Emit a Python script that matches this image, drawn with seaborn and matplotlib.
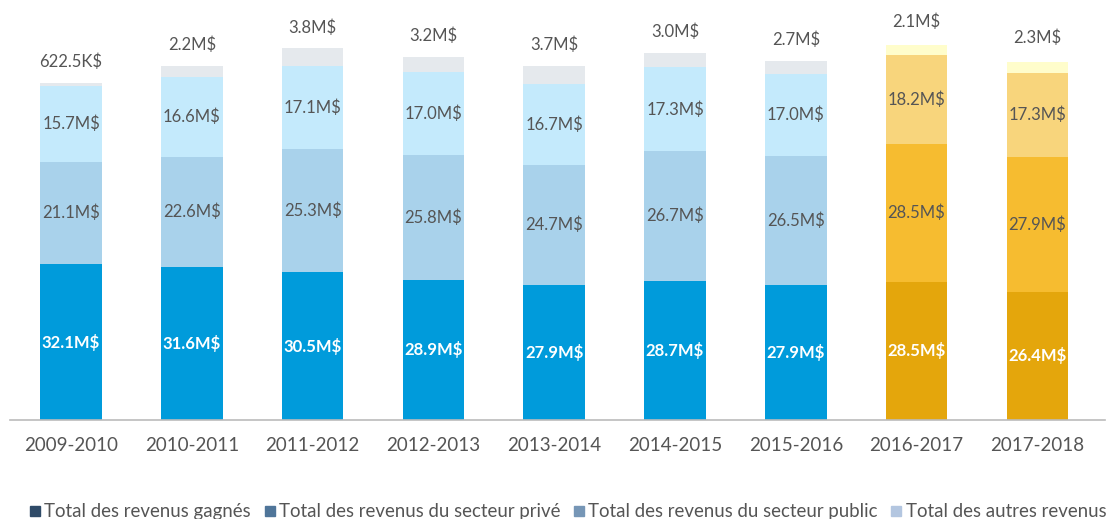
import numpy as np
import pandas as pd
import matplotlib
matplotlib.use("Agg")
import matplotlib.pyplot as plt
from matplotlib.lines import Line2D
import seaborn as sns

sns.set_theme(style="white")
plt.rcParams['font.family'] = ['Lato', 'DejaVu Sans']

years = ["2009-2010", "2010-2011", "2011-2012", "2012-2013", "2013-2014",
         "2014-2015", "2015-2016", "2016-2017", "2017-2018"]
gagnes = [32.1, 31.6, 30.5, 28.9, 27.9, 28.7, 27.9, 28.5, 26.4]
prive = [21.1, 22.6, 25.3, 25.8, 24.7, 26.7, 26.5, 28.5, 27.9]
public = [15.7, 16.6, 17.1, 17.0, 16.7, 17.3, 17.0, 18.2, 17.3]
autres = [0.6225, 2.2, 3.8, 3.2, 3.7, 3.0, 2.7, 2.1, 2.3]
autres_labels = ["622.5K$", "2.2M$", "3.8M$", "3.2M$", "3.7M$",
                 "3.0M$", "2.7M$", "2.1M$", "2.3M$"]

legend_labels = ["Total des revenus gagnés", "Total des revenus du secteur privé",
                 "Total des revenus du secteur public", "Total des autres revenus"]
legend_colors = ["#2f4b68", "#4f7599", "#7696b6", "#b3c6e0"]

# colours per layer: blue for the first 7 years, gold for the last 2
blue = ["#009bdb", "#a9d2eb", "#c4eafc", "#e5e9ed"]
gold = ["#e4a60c", "#f6bc30", "#f8d57c", "#fffdcb"]
n_blue = 7

df = pd.DataFrame({"year": years, "gagnes": gagnes, "prive": prive,
                   "public": public, "autres": autres})
layers = ["gagnes", "prive", "public", "autres"]
cum = df[layers].cumsum(axis=1)

fig = plt.figure(figsize=(11.18, 5.19), dpi=100)
ax = fig.add_axes([10 / 1118, 99 / 519, 1095 / 1118, 420 / 519])

# draw from the top layer down so lower layers cover the upper totals
for i in range(3, -1, -1):
    pal = {y: (blue[i] if k < n_blue else gold[i]) for k, y in enumerate(years)}
    d = pd.DataFrame({"year": years, "val": cum[layers[i]]})
    sns.barplot(data=d, x="year", y="val", hue="year", palette=pal, legend=False,
                width=0.51, saturation=1, linewidth=0, ax=ax)

for k in range(len(years)):
    base = 0
    for i, col in enumerate(layers[:3]):
        v = df[col][k]
        color = "white" if i == 0 else "#555555"
        ax.text(k, base + v / 2, f"{v:.1f}M$", ha="center", va="center",
                fontsize=12, color=color, fontweight="bold" if i == 0 else "normal")
        base += v
    total = cum["autres"][k]
    off = 9 if k < n_blue else 11
    ax.annotate(autres_labels[k], (k, total), xytext=(0, off), textcoords="offset points",
                ha="center", va="bottom", fontsize=12, color="#555555")

ax.set_xlim(-0.505, 8.56)
ax.set_ylim(0, 86.6)
ax.set_xlabel("")
ax.set_ylabel("")
ax.set_yticks([])
for s in ["top", "left", "right"]:
    ax.spines[s].set_visible(False)
ax.spines["bottom"].set_color("#bbbbbb")
ax.spines["bottom"].set_linewidth(1.2)
ax.tick_params(axis="x", labelsize=13.5, labelcolor="#555555", length=0, pad=12)

handles = [Line2D([], [], marker="s", linestyle="", markersize=7.5, color=c)
           for c in legend_colors]
leg = fig.legend(handles, legend_labels, loc="lower left", bbox_to_anchor=(0.008, -0.035),
                 ncol=4, frameon=False, fontsize=13.4, handletextpad=0.0,
                 columnspacing=0.5, handlelength=1.0)
for t in leg.get_texts():
    t.set_color("#555555")

fig.savefig("out.png", dpi=100)
